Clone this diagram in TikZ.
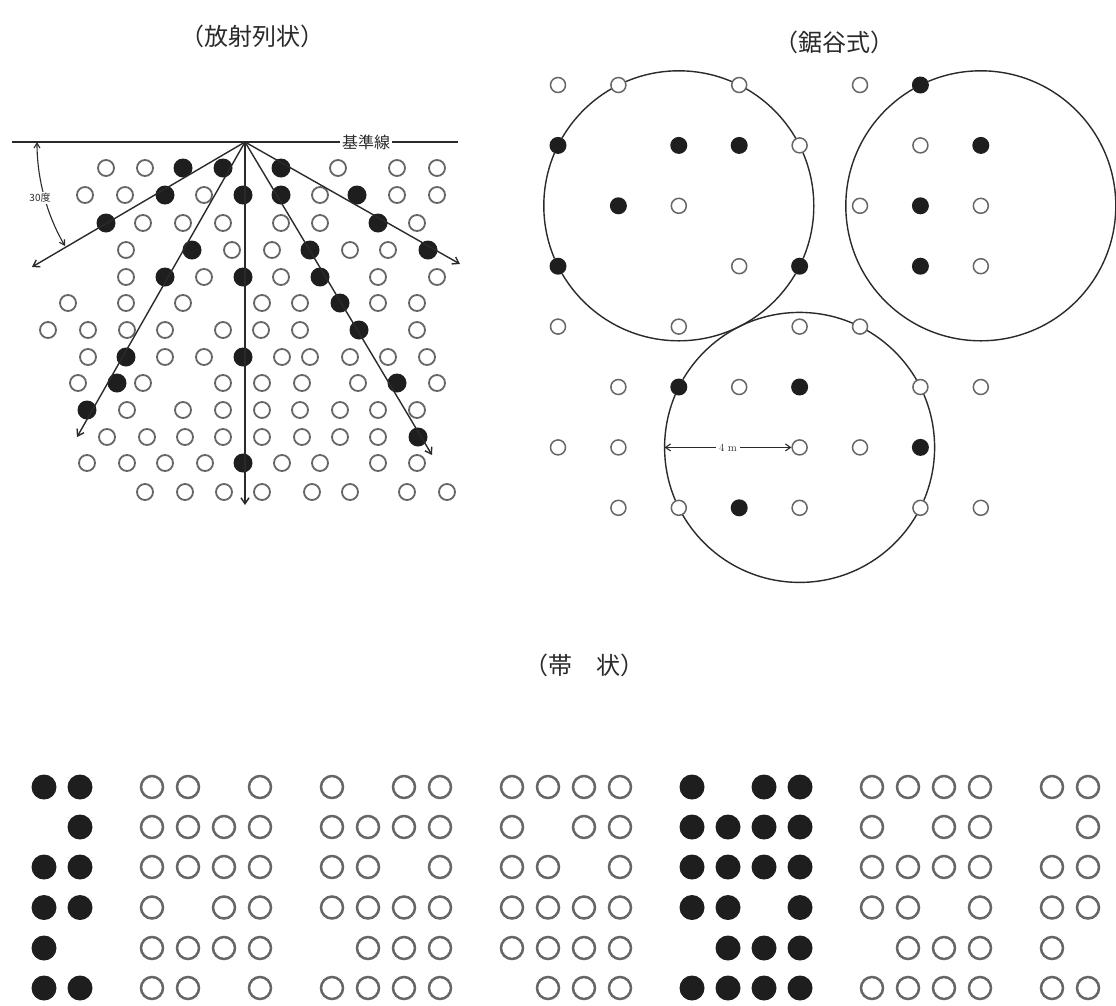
\documentclass[tikz,border=0pt]{standalone}
\usepackage{fontspec}
\newfontfamily\jp{Noto Sans CJK JP}
\usetikzlibrary{arrows.meta}
\definecolor{ink}{HTML}{2A2A2A}
\definecolor{ring}{HTML}{666666}
\definecolor{dotc}{HTML}{1E1E1E}
\begin{document}
\begin{tikzpicture}[x=1pt,y=-1pt,
  lo/.style={circle,draw=ring,line width=1.8pt,minimum size=16pt,inner sep=0pt},
  lb/.style={circle,fill=dotc,minimum size=19pt,inner sep=0pt},
  ro/.style={circle,draw=ring,line width=1.5pt,minimum size=15pt,inner sep=0pt},
  rb/.style={circle,fill=dotc,minimum size=17pt,inner sep=0pt},
  bo/.style={circle,draw=ring,line width=2.5pt,minimum size=22pt,inner sep=0pt},
  bb/.style={circle,fill=dotc,minimum size=25pt,inner sep=0pt},
  ray/.style={draw=ink,line width=1.4pt,-{Straight Barb[length=6pt,width=8pt]}},
  title/.style={font=\jp\fontsize{24}{24}\selectfont,text=ink,inner sep=0pt},
  lab/.style={fill=white,text=ink,inner sep=2pt},
  ]
\useasboundingbox[fill=white] (0,0) rectangle (1116,1005);

% ---------------- titles
\node[title] (t1) at (252,36) {（放射列状）};
\node[title] (t2) at (834,42) {（鋸谷式）};
\node[title] (t3) at (584,665) {（帯　状）};

% ---------------- radial pattern
\coordinate (A) at (245,142);
\coordinate (BL) at (12,142);
\coordinate (BR) at (458,142);
\draw[ink,line width=1.4pt] (BL) -- (BR);
\node[lab,font=\jp\fontsize{16}{16}\selectfont] (kjs) at (366,142) {基準線};

\foreach \x/\y/\s [count=\i] in {
 106/168/lo,145/168/lo,183/168/lb,223/168/lb,281/168/lb,338/168/lo,397/168/lo,437/168/lo,
 85/195/lo,125/195/lo,165/195/lb,204/195/lo,243/195/lb,281/195/lb,320/195/lo,357/195/lb,397/195/lo,437/195/lo,
 106/223/lb,143/223/lo,183/223/lo,223/223/lo,281/223/lo,320/223/lo,378/223/lb,417/223/lo,
 126/250/lo,192/250/lb,232/250/lo,272/250/lo,310/250/lb,350/250/lo,388/250/lo,428/250/lb,
 126/277/lo,165/277/lb,204/277/lo,243/277/lb,281/277/lo,320/277/lb,378/277/lo,437/277/lo,
 68/303/lo,126/303/lo,183/303/lo,262/303/lo,300/303/lo,340/303/lb,378/303/lo,417/303/lo,
 48/330/lo,88/330/lo,127/330/lo,165/330/lo,223/330/lo,261/330/lo,300/330/lo,359/330/lb,417/330/lo,
 88/357/lo,126/357/lb,165/357/lo,204/357/lo,243/357/lb,282/357/lo,310/357/lo,350/357/lo,388/357/lo,427/357/lo,
 78/383/lo,117/383/lb,143/383/lo,223/383/lo,262/383/lo,302/383/lo,358/383/lo,397/383/lb,437/383/lo,
 87/410/lb,127/410/lo,183/410/lo,223/410/lo,262/410/lo,300/410/lo,340/410/lo,378/410/lo,417/410/lo,
 107/437/lo,147/437/lo,185/437/lo,223/437/lo,262/437/lo,302/437/lo,340/437/lo,378/437/lo,418/437/lb,
 87/463/lo,127/463/lo,165/463/lo,205/463/lo,243/463/lb,282/463/lo,320/463/lo,378/463/lo,417/463/lo,
 145/492/lo,185/492/lo,224/492/lo,262/492/lo,312/492/lo,350/492/lo,407/492/lo,447/492/lo}
 \node[\s] (L\i) at (\x,\y) {};

\coordinate (E1) at (32,267);
\coordinate (E2) at (77,437);
\coordinate (E3) at (245,505);
\coordinate (E4) at (432,455);
\coordinate (E5) at (460,264);
\foreach \e in {E1,E2,E3,E4,E5} \draw[ray] (A) -- (\e);

\coordinate (P1) at (37,142);
\coordinate (P2) at (65,246);
\draw[ink,line width=1.1pt,{Straight Barb[length=5pt,width=6pt]}-{Straight Barb[length=5pt,width=6pt]}]
  (P1) .. controls (37,178.5) and (46.6,214.4) .. (P2);
\node[lab,inner sep=1pt,font=\jp\fontsize{10}{10}\selectfont] (deg) at (40,198) {30度};

% ---------------- saw-tooth pattern
\coordinate (C1) at ({558+60.4*2},{85+60.4*2});
\coordinate (C2) at ({558+60.4*7},{85+60.4*2});
\coordinate (C3) at ({558+60.4*4},{85+60.4*6});
\foreach \c in {C1,C2,C3} \draw[ink,line width=1.4pt] (\c) circle[radius=135pt];

\foreach \c/\r/\s in {
 0/0/ro,1/0/ro,3/0/ro,5/0/ro,6/0/rb,
 0/1/rb,2/1/rb,3/1/rb,4/1/ro,6/1/ro,7/1/rb,
 1/2/rb,2/2/ro,5/2/ro,6/2/rb,7/2/ro,
 0/3/rb,3/3/ro,4/3/rb,6/3/rb,7/3/ro,
 0/4/ro,2/4/ro,4/4/ro,5/4/ro,
 1/5/ro,2/5/rb,3/5/ro,4/5/rb,6/5/ro,7/5/ro,
 0/6/ro,1/6/ro,4/6/ro,5/6/ro,6/6/rb,
 1/7/ro,2/7/ro,3/7/rb,4/7/ro,6/7/ro,7/7/ro}
 \node[\s,fill=white] (R\c\r) at ({558+60.4*\c},{85+60.4*\r}) {};
\foreach \c/\r in {6/0,0/1,2/1,3/1,7/1,1/2,6/2,0/3,4/3,6/3,2/5,4/5,6/6,3/7}
 \node[rb] at (R\c\r) {};

\coordinate (C3w) at ({558+60.4*4-135},{85+60.4*6});
\draw[ink,line width=1.1pt,{Straight Barb[length=5pt,width=7pt]}-{Straight Barb[length=5pt,width=7pt]}]
  (C3w) -- (R46.west) node[lab,midway,inner sep=3pt,font=\fontsize{11}{11}\selectfont] (fm) {4 m};

% ---------------- band pattern
\foreach \x in {44,80} \node[bb] (B0b\x) at (\x,787) {};
\foreach \x in {692,764,800} \node[bb] (B0c\x) at (\x,787) {};
\foreach \x in {152,188,260,332,404,440,512,548,584,620,872,908,944,980,1052,1088} \node[bo] (B0o\x) at (\x,787) {};

\foreach \x in {80,692,728,764,800} \node[bb] (B1b\x) at (\x,827) {};
\foreach \x in {152,188,224,260,332,368,404,440,512,584,620,872,944,980,1088} \node[bo] (B1o\x) at (\x,827) {};

\foreach \x in {44,80,692,728,764,800} \node[bb] (B2b\x) at (\x,867) {};
\foreach \x in {152,188,224,260,332,368,440,512,548,620,872,908,944,980,1052,1088} \node[bo] (B2o\x) at (\x,867) {};

\foreach \x in {44,80,692,728,800} \node[bb] (B3b\x) at (\x,907.5) {};
\foreach \x in {152,224,260,332,368,404,440,512,548,584,620,872,908,980,1052,1088} \node[bo] (B3o\x) at (\x,907.5) {};

\foreach \x in {44,728,764,800} \node[bb] (B4b\x) at (\x,948) {};
\foreach \x in {152,188,224,260,368,404,440,512,548,584,620,908,944,980,1052} \node[bo] (B4o\x) at (\x,948) {};

\foreach \x in {44,80,692,728,764,800} \node[bb] (B5b\x) at (\x,988) {};
\foreach \x in {152,188,260,332,368,404,440,548,584,620,872,908,944,980,1052,1088} \node[bo] (B5o\x) at (\x,988) {};
\end{tikzpicture}
\end{document}
